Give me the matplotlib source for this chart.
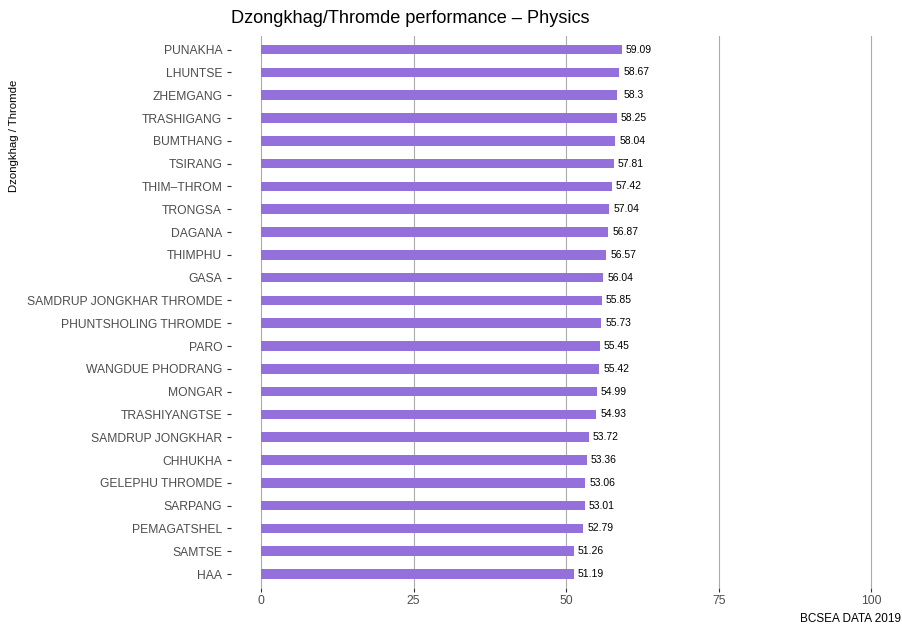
import matplotlib
matplotlib.use("Agg")
import matplotlib.pyplot as plt

plt.rcParams['font.family'] = ['Liberation Sans', 'DejaVu Sans']

# Dzongkhag / Thromde mean physics scores, top to bottom as shown
districts = [
    "PUNAKHA", "LHUNTSE", "ZHEMGANG", "TRASHIGANG", "BUMTHANG", "TSIRANG",
    "THIM\u2013THROM", "TRONGSA", "DAGANA", "THIMPHU", "GASA",
    "SAMDRUP JONGKHAR THROMDE", "PHUNTSHOLING THROMDE", "PARO",
    "WANGDUE PHODRANG", "MONGAR", "TRASHIYANGTSE", "SAMDRUP JONGKHAR",
    "CHHUKHA", "GELEPHU THROMDE", "SARPANG", "PEMAGATSHEL", "SAMTSE", "HAA",
]
scores = [
    59.09, 58.67, 58.3, 58.25, 58.04, 57.81, 57.42, 57.04, 56.87, 56.57,
    56.04, 55.85, 55.73, 55.45, 55.42, 54.99, 54.93, 53.72, 53.36, 53.06,
    53.01, 52.79, 51.26, 51.19,
]
xticks = [0, 25, 50, 75, 100]

fig = plt.figure(figsize=(9.03, 6.27), dpi=100)
ax = fig.add_axes([0.2553, 0.0627, 0.7436, 0.8799])

n = len(districts)
ypos = list(range(n - 1, -1, -1))

for t in xticks:
    ax.axvline(t, color='#ababab', lw=0.8, zorder=0)

ax.barh(ypos, scores, height=0.42, color='#9370DB', zorder=2)
for y, v in zip(ypos, scores):
    ax.text(v + 2.8, y, f"{v:g}", ha='center', va='center', fontsize=7.5, color='black')

ax.set_xlim(-5, 105)
ax.set_ylim(-0.6, n - 0.4)
ax.set_xticks(xticks)
ax.set_xticklabels([str(t) for t in xticks])
ax.set_yticks(ypos)
ax.set_yticklabels(districts)

for s in ax.spines.values():
    s.set_visible(False)
ax.tick_params(axis='both', colors='#333333', labelcolor='#4d4d4d', labelsize=8.7,
               length=3, width=0.8)
ax.tick_params(axis='x', pad=2.5)
ax.tick_params(axis='y', pad=3)

fig.text(0.2558, 0.971, "Dzongkhag/Thromde performance \u2013 Physics",
         fontsize=13.1, ha='left', va='center')
fig.text(0.016, 0.783, "Dzongkhag / Thromde", rotation=90, fontsize=8.2,
         ha='center', va='center')
fig.text(0.998, 0.003, "BCSEA DATA 2019", fontsize=8.5, ha='right', va='bottom')

fig.savefig("out.png", dpi=100)
